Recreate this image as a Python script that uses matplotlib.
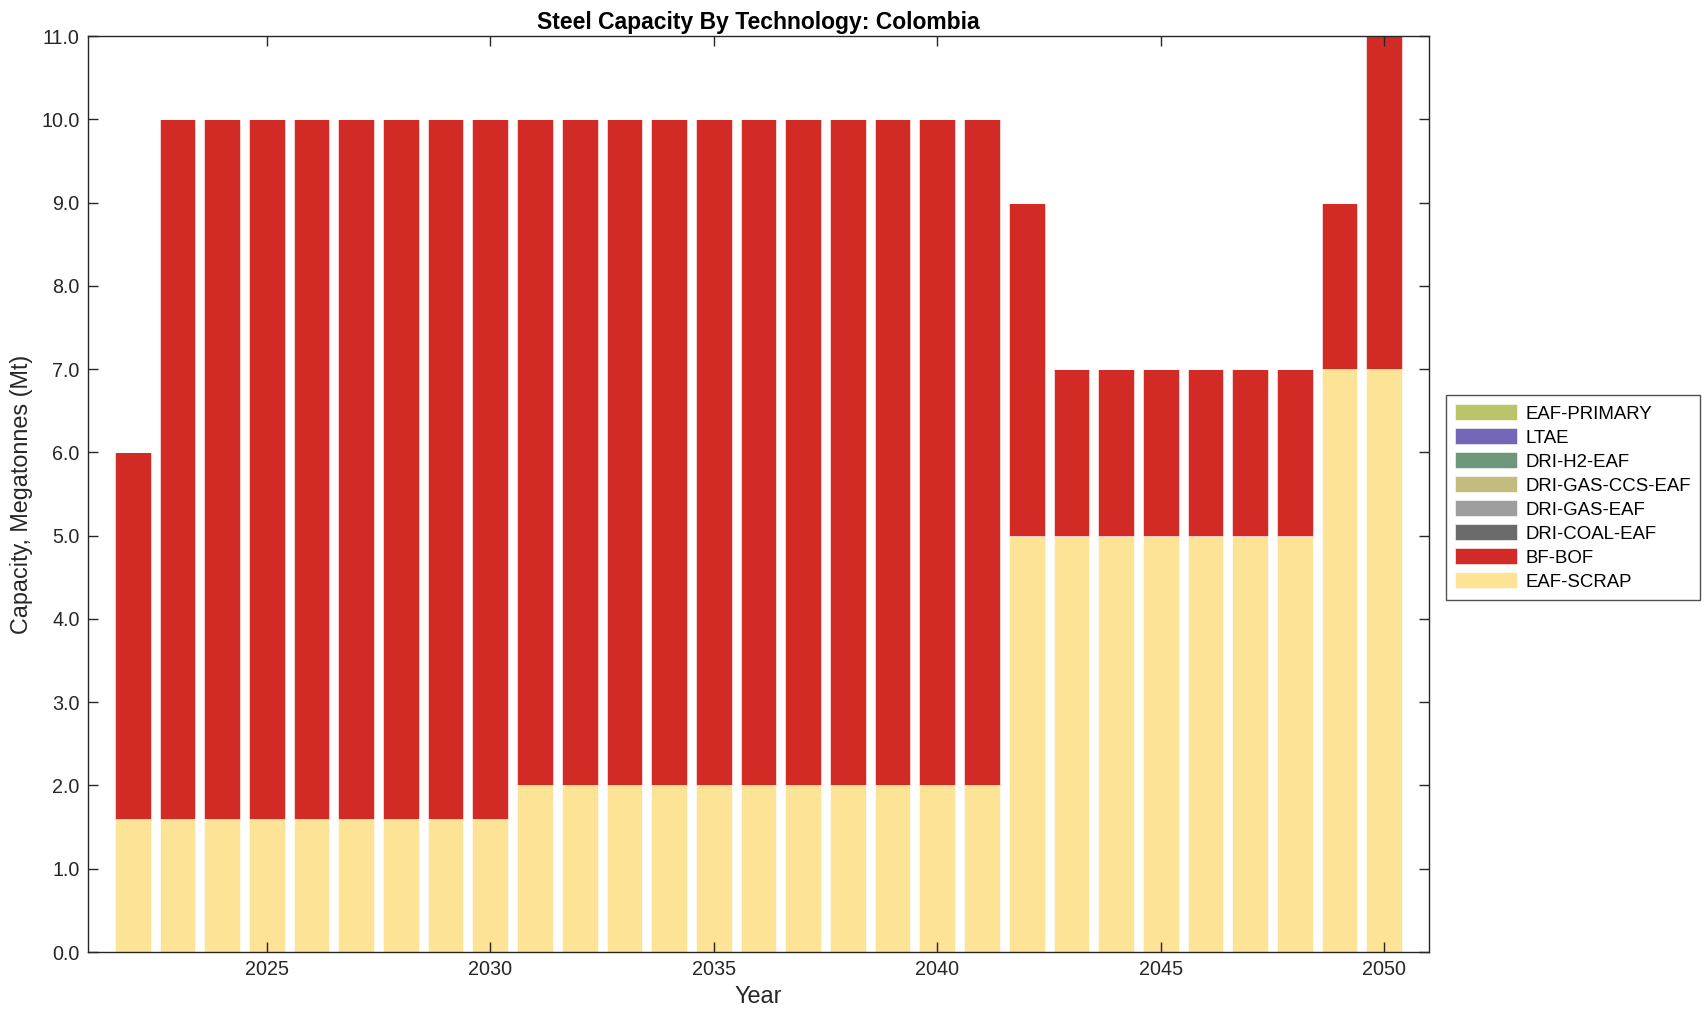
import numpy as np
import matplotlib.pyplot as plt
from matplotlib.ticker import FormatStrFormatter

plt.rcParams['font.family'] = ['Liberation Sans', 'DejaVu Sans']

# data
years = list(range(2022, 2051))
eaf_scrap = [1.6] * 9 + [2.0] * 11 + [5.0] * 7 + [7.0] * 2
bf_bof = [4.4] + [8.4] * 8 + [8.0] * 11 + [4.0] + [2.0] * 6 + [2.0, 4.0]
zeros = [0.0] * len(years)
dri_coal_eaf = zeros
dri_gas_eaf = zeros
dri_gas_ccs_eaf = zeros
dri_h2_eaf = zeros
ltae = zeros
eaf_primary = zeros

series = [
    ('EAF-SCRAP', eaf_scrap, '#FDE396'),
    ('BF-BOF', bf_bof, '#D22B25'),
    ('DRI-COAL-EAF', dri_coal_eaf, '#6B6B6B'),
    ('DRI-GAS-EAF', dri_gas_eaf, '#9E9E9E'),
    ('DRI-GAS-CCS-EAF', dri_gas_ccs_eaf, '#C4BB7E'),
    ('DRI-H2-EAF', dri_h2_eaf, '#6E967A'),
    ('LTAE', ltae, '#7467B8'),
    ('EAF-PRIMARY', eaf_primary, '#BCC46A'),
]

fig = plt.figure(figsize=(17.08, 10.21), dpi=100)
ax = fig.add_axes([88 / 1708, 1 - 952 / 1021, (1429 - 88) / 1708, (952 - 36) / 1021])

bottom = np.zeros(len(years))
handles = []
for name, vals, col in series:
    vals = np.array(vals)
    b = ax.bar(years, vals, 0.8, bottom=bottom, color=col, edgecolor='white',
               linewidth=0.4, label=name)
    handles.append(b)
    bottom += vals

ax.set_xlim(2021, 2051)
ax.set_ylim(0, 11)
ax.set_yticks(np.arange(0, 11.5, 1.0))
ax.yaxis.set_major_formatter(FormatStrFormatter('%.1f'))
ax.set_xticks([2025, 2030, 2035, 2040, 2045, 2050])
ax.tick_params(direction='in', top=True, right=True, length=7, width=1,
               labelsize=14.2, colors='#262626', pad=6)
for s in ax.spines.values():
    s.set_color('#262626')
    s.set_linewidth(1)

ax.set_xlabel('Year', fontsize=16.8, color='#262626', labelpad=4)
ax.set_ylabel('Capacity, Megatonnes (Mt)', fontsize=16.8, color='#262626', labelpad=6)
ax.set_title('Steel Capacity By Technology: Colombia', fontsize=16.5,
             fontweight='bold', pad=5)

leg = fig.legend(handles[::-1], [s[0] for s in series][::-1],
                 loc='upper left', bbox_to_anchor=(1446 / 1708, 1 - 395 / 1021),
                 fontsize=13.4, frameon=True, fancybox=False, edgecolor='#262626',
                 handlelength=3.3, handleheight=0.95, labelspacing=0.3,
                 borderpad=0.5, handletextpad=0.45, borderaxespad=0)
leg.get_frame().set_linewidth(1)

fig.savefig('out.png', dpi=100)
